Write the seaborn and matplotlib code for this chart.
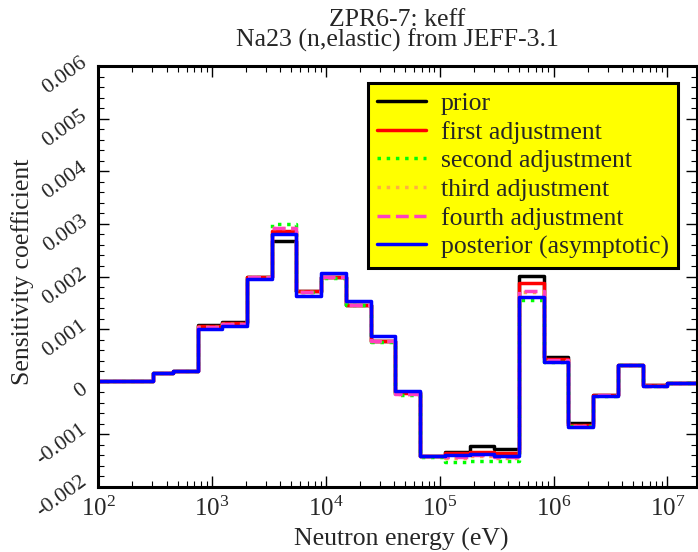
import numpy as np
import pandas as pd
import seaborn as sns
import matplotlib.pyplot as plt
from matplotlib.ticker import MultipleLocator, AutoMinorLocator, LogLocator, FuncFormatter
from matplotlib.transforms import ScaledTranslation

# ECCO-33 group boundaries (eV), ascending
edges = [91.6609, 148.625, 304.325, 453.999, 748.518, 1234.10, 2034.68, 3354.63,
         5530.84, 9118.82, 15034.4, 24787.5, 40867.7, 67379.5, 111090.0, 183156.0,
         301974.0, 497871.0, 820850.0, 1353350.0, 2231300.0, 3678790.0, 6065310.0,
         1.0e7, 1.96403e7]

prior = [0.00002, 0.00002, 0.00017, 0.00021, 0.00107, 0.00114, 0.00199, 0.00267,
         0.00172, 0.00199, 0.00146, 0.00078, -0.00020, -0.00141, -0.00133, -0.00122,
         -0.00128, 0.00201, 0.00047, -0.00079, -0.00025, 0.00032, -0.00007, -0.00002]
first = [0.00002, 0.00002, 0.00017, 0.00021, 0.00106, 0.00112, 0.00199, 0.00286,
         0.00172, 0.00199, 0.00146, 0.00078, -0.00021, -0.00141, -0.00136, -0.00133,
         -0.00136, 0.00188, 0.00043, -0.00082, -0.00025, 0.00032, -0.00007, -0.00002]
second = [0.00002, 0.00002, 0.00016, 0.00020, 0.00104, 0.00110, 0.00200, 0.00300,
          0.00171, 0.00198, 0.00145, 0.00075, -0.00025, -0.00143, -0.00152, -0.00150,
          -0.00150, 0.00156, 0.00037, -0.00085, -0.00027, 0.00031, -0.00008, -0.00002]
third = [0.00002, 0.00002, 0.00016, 0.00020, 0.00104, 0.00110, 0.00199, 0.00293,
         0.00171, 0.00199, 0.00146, 0.00077, -0.00023, -0.00142, -0.00145, -0.00142,
         -0.00145, 0.00170, 0.00040, -0.00084, -0.00026, 0.00031, -0.00008, -0.00002]
fourth = [0.00002, 0.00002, 0.00016, 0.00020, 0.00104, 0.00110, 0.00199, 0.00292,
          0.00171, 0.00199, 0.00146, 0.00077, -0.00023, -0.00142, -0.00143, -0.00140,
          -0.00143, 0.00173, 0.00041, -0.00084, -0.00026, 0.00031, -0.00008, -0.00002]
posterior = [0.00002, 0.00002, 0.00016, 0.00020, 0.00101, 0.00105, 0.00196, 0.00281,
             0.00162, 0.00206, 0.00153, 0.00086, -0.00017, -0.00141, -0.00139, -0.00137,
             -0.00141, 0.00161, 0.00037, -0.00086, -0.00028, 0.00031, -0.00008, -0.00002]

labels = ['prior', 'first adjustment', 'second adjustment', 'third adjustment',
          'fourth adjustment', 'posterior (asymptotic)']
series = [prior, first, second, third, fourth, posterior]
colors = ['black', '#ff0000', '#00ff00', '#ffb040', '#ff40c0', '#0000ff']
styles = ['-', '-', ':', ':', '--', '-']

sns.set_style('ticks')
plt.rcParams['font.family'] = ['Liberation Serif', 'DejaVu Serif']
plt.rcParams['mathtext.default'] = 'regular'
plt.rcParams['axes.unicode_minus'] = False

fig = plt.figure(figsize=(6.98, 5.52), dpi=100)
ax = fig.add_axes([98 / 698, 1 - 487 / 552, 599 / 698, 421 / 552])

for vals, lab, col, ls in zip(series, labels, colors, styles):
    y = vals + [vals[-1]]
    sns.lineplot(x=edges, y=y, ax=ax, drawstyle='steps-post', color=col,
                 linestyle=ls, linewidth=2.5, label=lab, sort=False)

ax.set_xscale('log')
ax.set_xlim(1e2, 1.82e7)
ax.set_ylim(-0.002, 0.006)
ax.yaxis.set_major_locator(MultipleLocator(0.001))
ax.yaxis.set_minor_locator(AutoMinorLocator(5))
ax.xaxis.set_major_locator(LogLocator(base=10, numticks=10))
ax.xaxis.set_minor_locator(LogLocator(base=10, subs=np.arange(2, 10), numticks=20))
ax.yaxis.set_major_formatter(FuncFormatter(lambda v, p: '0' if abs(v) < 1e-9 else f'{v:.3f}'))

ax.tick_params(which='both', direction='in', top=True, right=True, color='black')
ax.tick_params(which='major', length=8, width=1.0)
ax.tick_params(which='minor', length=4, width=0.8)
ax.tick_params(axis='x', labelsize=18, pad=7)
ax.tick_params(axis='y', labelsize=16, pad=5)
for spine in ax.spines.values():
    spine.set_linewidth(2.2)
    spine.set_color('black')

for lbl in ax.get_yticklabels():
    lbl.set_rotation(36)
    lbl.set_horizontalalignment('right')
    lbl.set_verticalalignment('center')
    lbl.set_transform(lbl.get_transform() + ScaledTranslation(0, -7 / 72, fig.dpi_scale_trans))

ax.set_xlabel('Neutron energy (eV)', fontsize=18.5)
ax.xaxis.set_label_coords(0.506, -0.097)
ax.set_ylabel('Sensitivity coefficient', fontsize=18.5)
ax.yaxis.set_label_coords(-0.107, 0.512)
ax.set_title('ZPR6-7: keff\nNa23 (n,elastic) from JEFF-3.1', fontsize=18.5,
             linespacing=0.87, pad=14)

leg = ax.legend(loc='upper right', bbox_to_anchor=(580 / 599, (487 - 83) / 421),
                borderaxespad=0, fontsize=18.5, frameon=True, fancybox=False,
                facecolor='#ffff00', edgecolor='black', framealpha=1,
                handlelength=1.9, handletextpad=0.58, labelspacing=0.22, borderpad=0.35)
leg.get_frame().set_linewidth(2.2)

fig.savefig('out.png', dpi=100)
